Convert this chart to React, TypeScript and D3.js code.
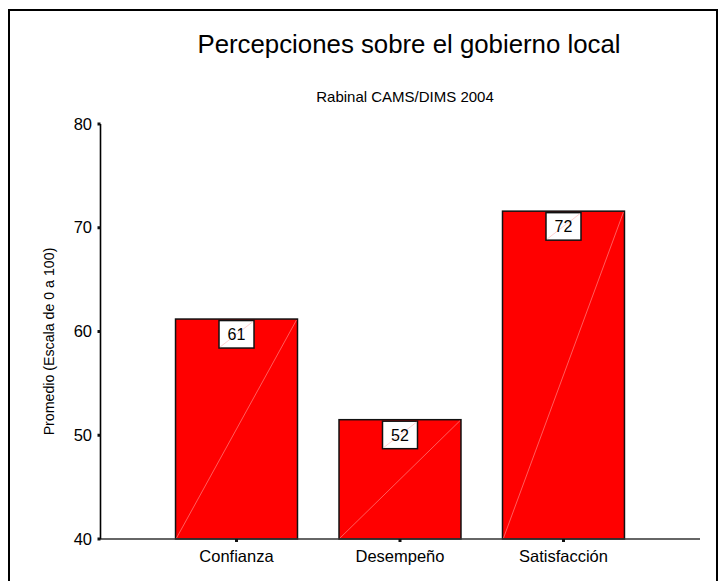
import React from "react";
import * as d3 from "d3";

const categories: string[] = ["Confianza", "Desempeño", "Satisfacción"];
const values: number[] = [61.2, 51.5, 71.6];
const valueLabels: string[] = ["61", "52", "72"];
const yTicks: number[] = [40, 50, 60, 70, 80];
const title = "Percepciones sobre el gobierno local";
const subtitle = "Rabinal CAMS/DIMS 2004";
const yTitle = "Promedio (Escala de 0 a 100)";

const W = 719;
const H = 581;
const plot = { left: 100, right: 700, top: 124, bottom: 539 };
const font = "Arial, 'Liberation Sans', Helvetica, sans-serif";

export default function App() {
  const x = d3
    .scaleBand<string>()
    .domain(categories)
    .range([plot.left, plot.right])
    .paddingInner(0.254)
    .paddingOuter(0.462);
  const y = d3.scaleLinear().domain([40, 80]).range([plot.bottom, plot.top]);
  const bw = x.bandwidth();
  const yTitleCenter = (y(40) + y(80)) / 2 + 10;

  return (
    <svg
      width={W}
      height={H}
      style={{ position: "absolute", left: 0, top: 0, background: "#fff" }}
      fontFamily={font}
    >
      <rect x={0} y={0} width={W} height={H} fill="#fff" />
      {/* frame */}
      <path d={`M9,${H + 5} V10 H717 V${H + 5}`} fill="none" stroke="#000" strokeWidth={2} />

      <text x={409} y={53} textAnchor="middle" fontSize={25.8} fill="#000">
        {title}
      </text>
      <text x={405} y={102} textAnchor="middle" fontSize={15} fill="#000">
        {subtitle}
      </text>

      {/* y axis title */}
      <text
        transform={`translate(54,${yTitleCenter}) rotate(-90)`}
        textAnchor="middle"
        fontSize={14.2}
        fill="#000"
      >
        {yTitle}
      </text>

      {/* bars */}
      {categories.map((c, i) => {
        const x0 = x(c)!;
        const yt = y(values[i]);
        return (
          <g key={c}>
            <rect
              x={x0}
              y={yt}
              width={bw}
              height={plot.bottom - yt}
              fill="#ff0000"
              stroke="#111"
              strokeWidth={1.5}
            />
            <line
              x1={x0 + 1}
              y1={plot.bottom - 1}
              x2={x0 + bw - 1}
              y2={yt + 1}
              stroke="#ff9a9a"
              strokeWidth={0.6}
            />
          </g>
        );
      })}

      {/* axes */}
      <line x1={plot.left} y1={plot.bottom} x2={plot.right} y2={plot.bottom} stroke="#333" strokeWidth={1.5} />
      <line x1={plot.left + 0.5} y1={plot.top} x2={plot.left + 0.5} y2={plot.bottom} stroke="#000" strokeWidth={1.6} />

      {yTicks.map((t) => (
        <g key={t}>
          <rect x={plot.left - 2.5} y={y(t) - 1.5} width={3} height={3} fill="#111" />
          <text x={92} y={y(t) + 5.5} textAnchor="end" fontSize={16.5} fill="#000">
            {t}
          </text>
        </g>
      ))}

      {categories.map((c) => {
        const cx = x(c)! + bw / 2;
        return (
          <g key={c + "-tick"}>
            <rect x={cx - 1.5} y={plot.bottom} width={3} height={3} fill="#111" />
            <text x={cx} y={562} textAnchor="middle" fontSize={16.5} fill="#000">
              {c}
            </text>
          </g>
        );
      })}

      {/* value labels */}
      {categories.map((c, i) => {
        const cx = x(c)! + bw / 2;
        const yt = y(values[i]);
        const bx = cx - 17.5;
        const by = yt + 1.5;
        return (
          <g key={c + "-lbl"}>
            <rect x={bx} y={by} width={35} height={27.5} fill="#fff" stroke="#111" strokeWidth={1.5} />
            <line x1={bx + 1} y1={by + 26.5} x2={bx + 34} y2={by + 1} stroke="#ffb0b0" strokeWidth={0.6} />
            <text x={cx} y={by + 19.5} textAnchor="middle" fontSize={16} fill="#000">
              {valueLabels[i]}
            </text>
          </g>
        );
      })}
    </svg>
  );
}
